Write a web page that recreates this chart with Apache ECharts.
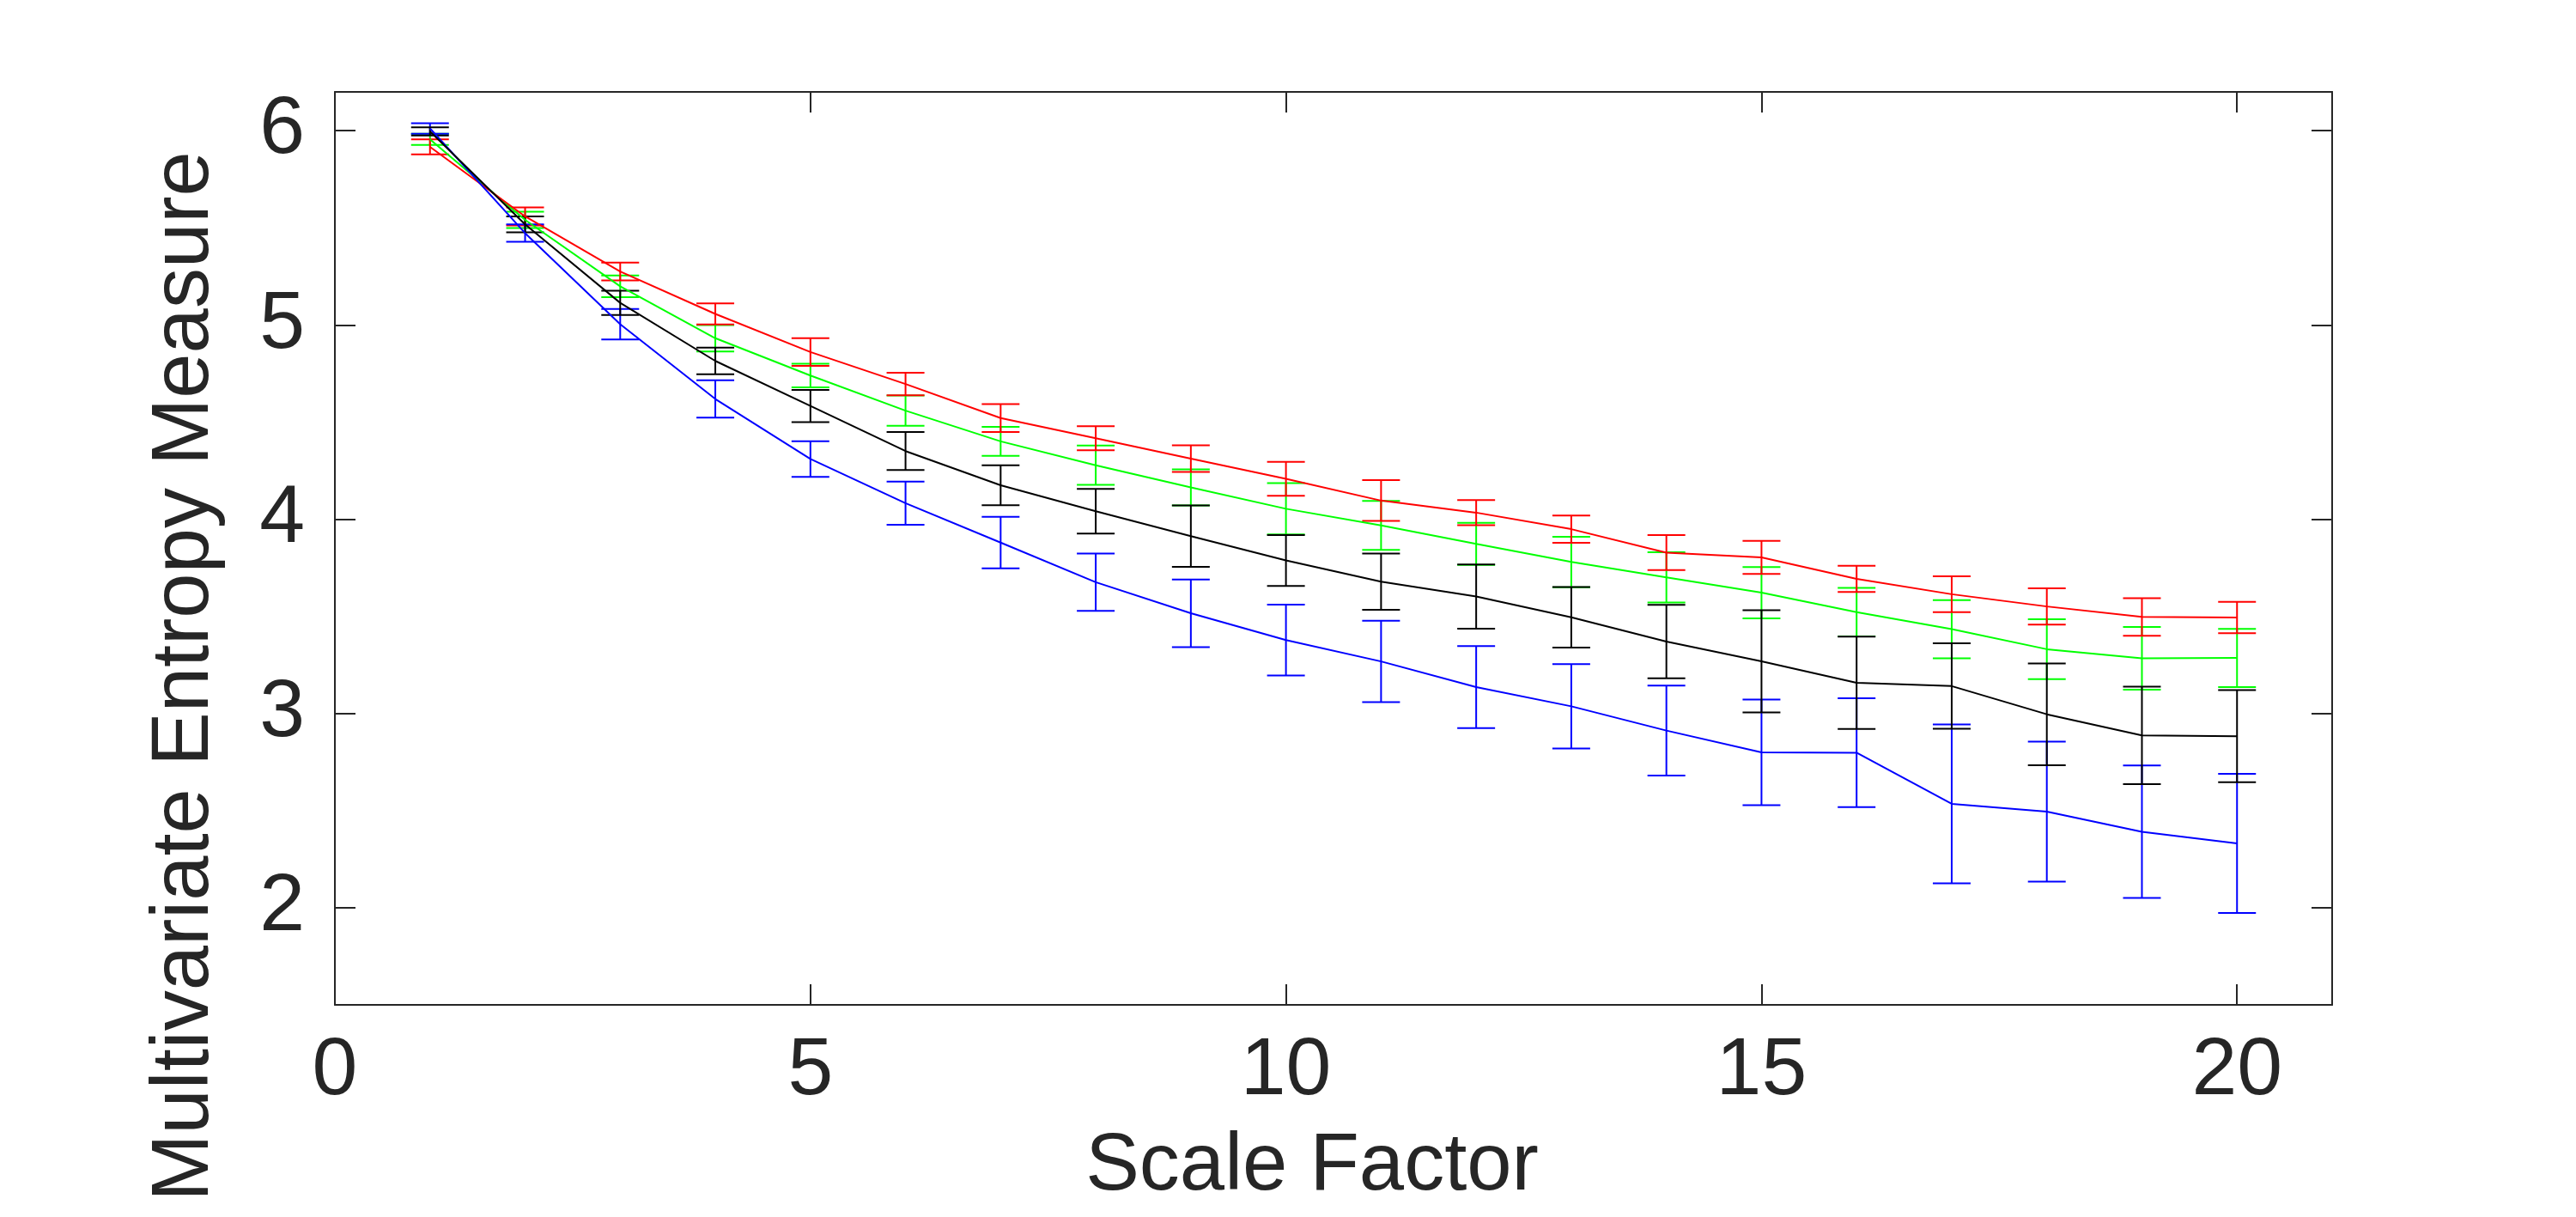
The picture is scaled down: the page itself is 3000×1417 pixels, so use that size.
<!DOCTYPE html>
<html>
<head>
<meta charset="utf-8">
<script src="https://cdn.jsdelivr.net/npm/echarts@6/dist/echarts.min.js"></script>
<style>
html,body{margin:0;padding:0;background:#ffffff;}
#chart{width:3000px;height:1417px;}
</style>
</head>
<body>
<div id="chart"></div>
<script>
// ---- data ----
const scaleFactors = [1,2,3,4,5,6,7,8,9,10,11,12,13,14,15,16,17,18,19,20];

const redMean  = [5.917,5.559,5.275,5.057,4.861,4.696,4.521,4.417,4.312,4.208,4.096,4.034,3.949,3.828,3.804,3.693,3.614,3.551,3.497,3.494];
const redErr   = [0.039,0.046,0.046,0.054,0.071,0.058,0.072,0.062,0.069,0.087,0.105,0.065,0.070,0.090,0.085,0.067,0.092,0.093,0.097,0.081];

const greenMean = [5.956,5.541,5.199,4.932,4.740,4.559,4.401,4.278,4.164,4.054,3.968,3.873,3.780,3.701,3.622,3.522,3.434,3.331,3.284,3.286];
const greenErr  = [0.029,0.042,0.056,0.068,0.061,0.078,0.075,0.101,0.093,0.132,0.126,0.108,0.130,0.129,0.132,0.125,0.150,0.154,0.161,0.150];

const blackMean = [5.997,5.518,5.114,4.815,4.583,4.351,4.175,4.041,3.913,3.788,3.679,3.602,3.495,3.370,3.269,3.158,3.141,2.996,2.887,2.883];
const blackErr  = [0.021,0.041,0.062,0.069,0.083,0.098,0.103,0.115,0.158,0.131,0.145,0.165,0.156,0.189,0.263,0.238,0.220,0.262,0.251,0.237];

const blueMean = [6.012,5.473,5.004,4.619,4.310,4.083,3.880,3.676,3.516,3.378,3.268,3.136,3.037,2.912,2.800,2.798,2.535,2.495,2.391,2.331];
const blueErr  = [0.027,0.045,0.078,0.096,0.092,0.111,0.133,0.148,0.174,0.182,0.209,0.211,0.217,0.232,0.272,0.280,0.409,0.360,0.341,0.358];

const xTitle = 'Scale Factor';
const yTitle = 'Multivariate Entropy Measure';

// ---- styling ----
const AXIS_COLOR = '#262626';
const FONT = '"Liberation Sans", Arial, Helvetica, sans-serif';
const LINE_W = 2;
const CAP_HALF = 22;

function errRenderer(color) {
  return function (params, api) {
    const x = api.value(0), m = api.value(1), e = api.value(2);
    const top = api.coord([x, m + e]);
    const bot = api.coord([x, m - e]);
    const style = { stroke: color, lineWidth: LINE_W, fill: null };
    return {
      type: 'group',
      children: [
        { type: 'line', shape: { x1: top[0], y1: top[1], x2: bot[0], y2: bot[1] }, style: style },
        { type: 'line', shape: { x1: top[0] - CAP_HALF, y1: top[1], x2: top[0] + CAP_HALF, y2: top[1] }, style: style },
        { type: 'line', shape: { x1: bot[0] - CAP_HALF, y1: bot[1], x2: bot[0] + CAP_HALF, y2: bot[1] }, style: style }
      ]
    };
  };
}

function makeSeries(name, color, mean, err) {
  const lineData = scaleFactors.map((x, i) => [x, mean[i]]);
  const errData = scaleFactors.map((x, i) => [x, mean[i], err[i]]);
  return [
    {
      name: name + ' err', type: 'custom', xAxisIndex: 0, yAxisIndex: 0,
      renderItem: errRenderer(color), encode: { x: 0, y: 1 }, data: errData, silent: true
    },
    {
      name: name, type: 'line', xAxisIndex: 0, yAxisIndex: 0, data: lineData,
      symbol: 'none', lineStyle: { color: color, width: LINE_W }, itemStyle: { color: color }, silent: true
    }
  ];
}

const axisLine = { show: true, onZero: false, lineStyle: { color: AXIS_COLOR, width: 2 } };
const axisTick = { show: true, inside: true, length: 24, lineStyle: { color: AXIS_COLOR, width: 2 } };

const chart = echarts.init(document.getElementById('chart'), null, { renderer: 'canvas' });
chart.setOption({
  animation: false,
  backgroundColor: '#ffffff',
  grid: { left: 390, right: 284, top: 107, bottom: 247, containLabel: false, outerBoundsMode: 'none' },
  xAxis: [
    {
      type: 'value', min: 0, max: 21, interval: 5, position: 'bottom',
      axisLine: axisLine, axisTick: axisTick, splitLine: { show: false },
      axisLabel: {
        fontSize: 95, lineHeight: 95, fontFamily: FONT, color: AXIS_COLOR, margin: 30,
        formatter: v => (v % 5 === 0 ? String(v) : '')
      },
      name: xTitle, nameLocation: 'middle', nameGap: 142,
      nameTextStyle: { fontSize: 94, lineHeight: 94, fontFamily: FONT, color: AXIS_COLOR, padding: [0, 50, 0, 0] }
    },
    {
      type: 'value', min: 0, max: 21, interval: 5, position: 'top',
      axisLine: axisLine, axisTick: axisTick, splitLine: { show: false },
      axisLabel: { show: false }
    }
  ],
  yAxis: [
    {
      type: 'value', min: 1.5, max: 6.2, splitNumber: 5, position: 'left',
      axisLine: axisLine, axisTick: axisTick, splitLine: { show: false },
      axisLabel: {
        fontSize: 95, lineHeight: 95, fontFamily: FONT, color: AXIS_COLOR, margin: 35,
        formatter: v => (Number.isInteger(v) ? String(v) : '')
      },
      name: yTitle, nameLocation: 'middle', nameGap: 127, nameRotate: 90,
      nameTextStyle: { fontSize: 94, lineHeight: 94, fontFamily: FONT, color: AXIS_COLOR, padding: [0, 298, 0, 0] }
    },
    {
      type: 'value', min: 1.5, max: 6.2, splitNumber: 5, position: 'right',
      axisLine: axisLine, axisTick: axisTick, splitLine: { show: false },
      axisLabel: { show: false }
    }
  ],
  series: [].concat(
    makeSeries('Green', '#00ff00', greenMean, greenErr),
    makeSeries('Red', '#ff0000', redMean, redErr),
    makeSeries('Blue', '#0000ff', blueMean, blueErr),
    makeSeries('Black', '#000000', blackMean, blackErr)
  )
});
</script>
</body>
</html>
